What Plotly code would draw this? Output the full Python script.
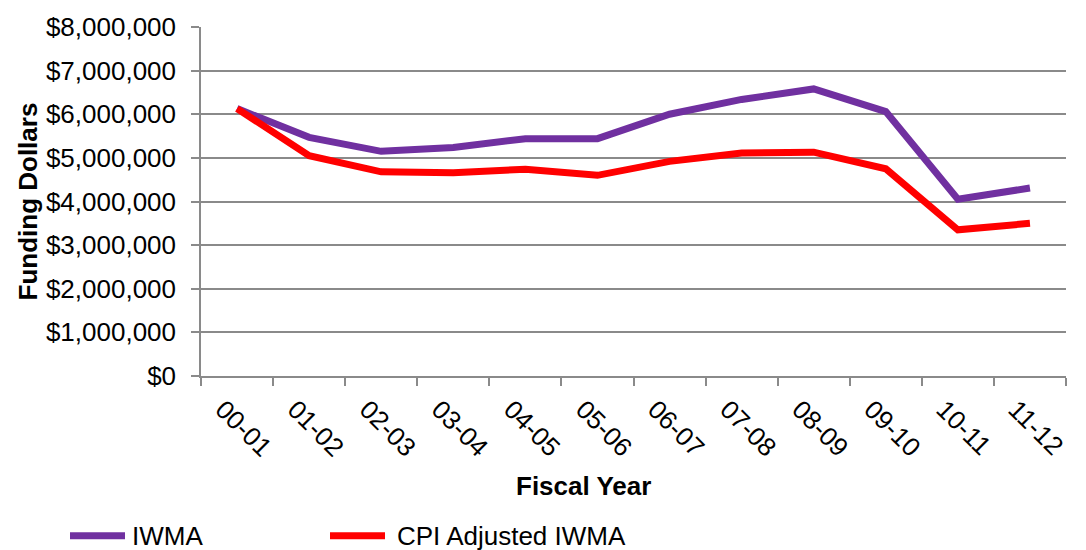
import plotly.graph_objects as go

years = ["00-01", "01-02", "02-03", "03-04", "04-05", "05-06",
         "06-07", "07-08", "08-09", "09-10", "10-11", "11-12"]
iwma = [6130000, 5470000, 5150000, 5240000, 5440000, 5440000,
        6000000, 6340000, 6580000, 6060000, 4050000, 4310000]
cpi_adjusted = [6130000, 5050000, 4680000, 4660000, 4740000, 4600000,
                4920000, 5110000, 5130000, 4750000, 3350000, 3500000]
y_ticks = [0, 1000000, 2000000, 3000000, 4000000, 5000000, 6000000, 7000000, 8000000]
y_ticktext = [f"${v:,}" for v in y_ticks]
series_names = ["IWMA", "CPI Adjusted IWMA"]
series_colors = ["#7030A0", "#FF0000"]

FONT = "Liberation Sans, Arial, sans-serif"
GRID = "#8a8a8a"
FS = 26

# plot area in pixels
L, R, T, B = 201, 1066, 24, 376
def px(xp):
    return (xp - L) / (R - L)
def py(yp):
    return (B - yp) / (B - T)

fig = go.Figure()
for name, vals, col in zip(series_names, [iwma, cpi_adjusted], series_colors):
    fig.add_trace(go.Scatter(x=years, y=vals, mode="lines", name=name,
                             line=dict(color=col, width=7), showlegend=False))

# manual legend (longer samples like the original)
legend_pos = [(70, 125, 130), (330, 385, 395)]
shapes = []
annotations = []
for (x0, x1, xt), name, col in zip(legend_pos, series_names, series_colors):
    shapes.append(dict(type="line", xref="paper", yref="paper",
                       x0=px(x0), x1=px(x1), y0=py(537), y1=py(537),
                       line=dict(color=col, width=7)))
    annotations.append(dict(text=name, xref="paper", yref="paper",
                            x=px(xt), y=py(537), xanchor="left", yanchor="middle",
                            showarrow=False, font=dict(size=FS, family=FONT)))

annotations += [
    dict(text="<b>Fiscal Year</b>", xref="paper", yref="paper",
         x=px(583), y=py(487), xanchor="center", yanchor="middle",
         showarrow=False, font=dict(size=FS, family=FONT)),
    dict(text="<b>Funding Dollars</b>", xref="paper", yref="paper",
         x=px(27), y=0.5, textangle=-90, xanchor="center", yanchor="middle",
         showarrow=False, font=dict(size=FS, family=FONT)),
]

fig.update_layout(
    width=1086, height=550,
    margin=dict(l=L, r=1086 - R, t=T, b=550 - B),
    paper_bgcolor="white", plot_bgcolor="white",
    font=dict(family=FONT, color="black", size=FS),
    showlegend=False,
    shapes=shapes,
    annotations=annotations,
)
fig.update_xaxes(
    type="category", range=[-0.5, 11.5],
    tickangle=45, tickson="boundaries", ticks="outside", ticklen=8,
    tickcolor=GRID, tickwidth=1.5,
    showline=True, linecolor=GRID, linewidth=1.5,
    showgrid=False,
    tickfont=dict(size=FS, family=FONT),
    ticklabelstandoff=6, ticklabelshift=-14,
)
fig.update_yaxes(
    range=[0, 8000000], tickvals=y_ticks, ticktext=y_ticktext,
    ticks="outside", ticklen=8, tickcolor=GRID, tickwidth=1.5,
    showline=True, linecolor=GRID, linewidth=1.5,
    showgrid=True, gridcolor=GRID, gridwidth=1.5,
    zeroline=False,
    tickfont=dict(size=FS, family=FONT),
    ticklabelstandoff=10,
)

fig.write_html("out.html")
